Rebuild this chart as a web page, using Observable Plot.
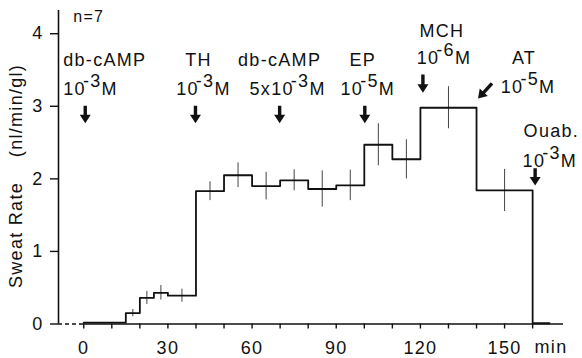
<!DOCTYPE html>
<html><head><meta charset="utf-8">
<script src="https://cdn.jsdelivr.net/npm/d3@7"></script>
<script src="https://cdn.jsdelivr.net/npm/@observablehq/plot@0.6"></script>
<style>
body{margin:0;background:#fff}
#chart svg text{letter-spacing:1.3px}
</style>
</head><body><div id="chart"></div><script>
// Step trace: start time of each collection period (min) and mean sweat rate (nl/min/gl)
const segStart = [0, 15, 20, 25, 30, 40, 50, 60, 70, 80, 90, 100, 110, 120, 140, 160];
const segRate  = [0.02, 0.15, 0.36, 0.43, 0.39, 1.83, 2.05, 1.90, 1.98, 1.86, 1.91, 2.47, 2.27, 2.98, 1.84, 0.01];
const traceEnd = 166;
// Error bars: time (min) and half-length (SE)
const errTime = [17.5, 22.5, 27.5, 35, 45, 55, 65, 75, 85, 95, 105, 115, 130, 150];
const errSE   = [0.05, 0.09, 0.10, 0.09, 0.13, 0.17, 0.19, 0.145, 0.25, 0.21, 0.29, 0.27, 0.29, 0.29];
// Axis ticks
const xTicks = [0, 10, 20, 30, 40, 50, 60, 70, 80, 90, 100, 110, 120, 130, 140, 150, 160];
const xTickLabels = ["0", "", "", "30", "", "", "60", "", "", "90", "", "", "120", "", "", "150", ""];
const yTicks = [0, 1, 2, 3, 4];
const yTickLabels = ["0", "1", "2", "3", "4"];
// Drug additions
const drugNames  = ["db-cAMP", "TH", "db-cAMP", "EP", "MCH", "AT", "Ouab."];
const drugTimes  = [0, 40, 70, 100, 120, 140, 160];
const dosePrefix = ["", "", "5x", "", "", "", ""];
const doseExp    = [-3, -3, -3, -5, -6, -5, -3];
const nLabel = "n=7";

const rateAt = t => { let v = segRate[0]; segStart.forEach((s, i) => { if (t >= s) v = segRate[i]; }); return v; };
const trace = segStart.map((t, i) => ({t, v: segRate[i]})).concat([{t: traceEnd, v: segRate[segRate.length - 1]}]);
const errs = errTime.map((t, i) => ({t, lo: rateAt(t) - errSE[i], hi: rateAt(t) + errSE[i]}));

// annotation layout (pixel offsets / label heights in axis units)
const layout = [
  {anchor: "start",  nameDx: -20, doseDx: -20, nameY: 3.55, doseY: 3.15, arrow: [2, 3.00, 2, 2.76]},
  {anchor: "middle", nameDx: 3,   doseDx: 8,   nameY: 3.55, doseY: 3.15, arrow: [0, 3.00, 0, 2.76]},
  {anchor: "middle", nameDx: 0,   doseDx: 8,   nameY: 3.55, doseY: 3.15, arrow: [0, 3.00, 0, 2.76]},
  {anchor: "middle", nameDx: -1,  doseDx: 4,   nameY: 3.55, doseY: 3.15, arrow: [1, 3.00, 1, 2.76]},
  {anchor: "middle", nameDx: 22,  doseDx: 24,  nameY: 3.95, doseY: 3.57, arrow: [3, 3.43, 3, 3.18]},
  {anchor: "middle", nameDx: 48,  doseDx: 52,  nameY: 3.57, doseY: 3.18, arrow: [16, 3.31, 2, 3.10]},
  {anchor: "end",    nameDx: 47,  doseDx: 45,  nameY: 2.57, doseY: 2.16, arrow: [3, 2.14, 3, 1.90]}
];

function arrowPath(x1, y1, x2, y2) {
  const dx = x2 - x1, dy = y2 - y1, len = Math.hypot(dx, dy);
  const ux = dx / len, uy = dy / len, px = -uy, py = ux;
  const hl = 8.5, hw = 5.5, sw = 1.7;
  const bx = x2 - ux * hl, by = y2 - uy * hl;
  const p = [[x1 + px * sw, y1 + py * sw], [bx + px * sw, by + py * sw], [bx + px * hw, by + py * hw], [x2, y2],
             [bx - px * hw, by - py * hw], [bx - px * sw, by - py * sw], [x1 - px * sw, y1 - py * sw]];
  return "M" + p.map(q => q.join(",")).join("L") + "Z";
}

function annotations(index, scales) {
  const {x, y} = scales;
  const g = d3.create("svg:g").attr("fill", "#111").attr("font-size", 18);
  drugNames.forEach((name, i) => {
    const L = layout[i];
    const cx = x(drugTimes[i]);
    g.append("text").attr("x", cx + L.nameDx).attr("y", y(L.nameY)).attr("text-anchor", L.anchor).text(name);
    const t = g.append("text").attr("x", cx + L.doseDx).attr("y", y(L.doseY)).attr("text-anchor", L.anchor);
    t.append("tspan").text(dosePrefix[i] + "10");
    t.append("tspan").attr("dy", -8).attr("dx", -3).text(String(doseExp[i]));
    t.append("tspan").attr("dy", 8).text("M");
    const a = L.arrow;
    g.append("path").attr("d", arrowPath(cx + a[0], y(a[1]), cx + a[2], y(a[3]))).attr("fill", "#111");
  });
  g.append("text").attr("x", x(0) - 10).attr("y", y(4.16)).attr("text-anchor", "start").attr("font-size", 16).text(nLabel);
  g.append("text").attr("x", 551).attr("y", 353).attr("text-anchor", "middle").text("min");
  g.append("text").attr("transform", "translate(21.5,235) rotate(-90)").attr("text-anchor", "middle").text("Sweat Rate");
  g.append("text").attr("transform", "translate(21.5,110.5) rotate(-90)").attr("text-anchor", "middle").text("(nl/min/gl)");
  return g.node();
}

const chart = Plot.plot({
  width: 582, height: 358,
  marginLeft: 58, marginRight: 19, marginTop: 10, marginBottom: 34.5,
  style: {fontFamily: "'Liberation Sans', Arial, sans-serif", fontSize: "18px", color: "#111", background: "#fff"},
  x: {domain: [-9, 171]},
  y: {domain: [0, 4.32]},
  marks: [
    Plot.axisY(yTicks, {tickSize: 8, tickPadding: 7, tickFormat: d => yTickLabels[yTicks.indexOf(d)], label: null, strokeWidth: 1.4, fontSize: 18}),
    Plot.axisX(xTicks, {tickSize: 5, tickPadding: 12, tickFormat: d => xTickLabels[xTicks.indexOf(d)], label: null, strokeWidth: 1.4, fontSize: 18}),
    Plot.ruleX([-9], {y1: 0, y2: 4.32, stroke: "#111", strokeWidth: 1.6}),
    Plot.ruleY([0], {x1: -9, x2: 0, stroke: "#111", strokeWidth: 1.3, strokeDasharray: "4,3"}),
    Plot.ruleY([0], {x1: 0, x2: 171, stroke: "#111", strokeWidth: 1.4}),
    Plot.ruleX(errs, {x: "t", y1: "lo", y2: "hi", stroke: "#444", strokeWidth: 1}),
    Plot.line(trace, {x: "t", y: "v", curve: "step-after", stroke: "#111", strokeWidth: 1.8}),
    annotations
  ]
});
document.getElementById("chart").appendChild(chart);
</script></body></html>
